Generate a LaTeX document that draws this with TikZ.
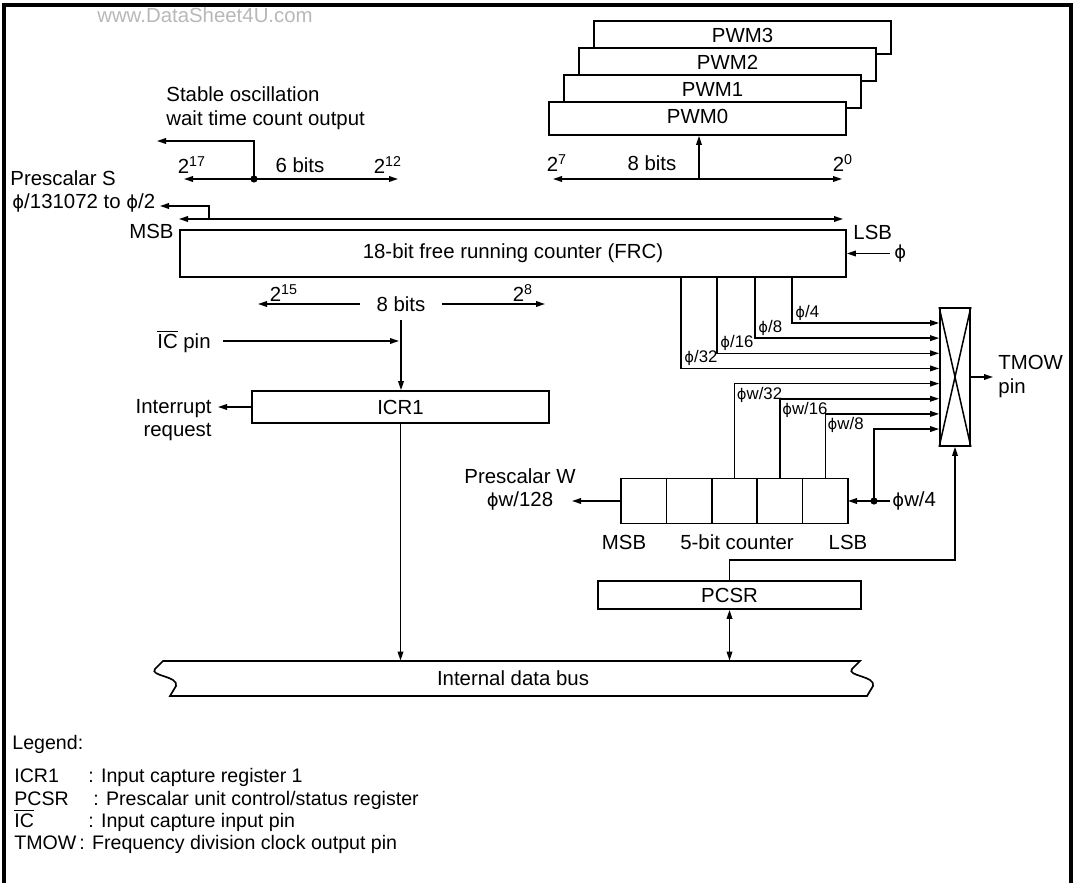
\documentclass[tikz,border=0pt]{standalone}
\usepackage{fontspec}
\setmainfont{Liberation Sans}
\newfontfamily\phifont{DejaVu Sans}[Scale=0.88]
\usetikzlibrary{arrows.meta, positioning, calc}
\newcommand{\ph}{{\phifont ϕ}}
\tikzset{
  regbox/.style={
    rectangle, draw=black, fill=white, line width=0.85pt,
    inner sep=0pt, font=\fontsize{10.2}{11.8}\selectfont,
  },
  cell/.style={regbox, minimum width=22.7pt, minimum height=22.5pt, outer sep=0pt},
  lbl/.style={inner sep=0pt, font=\fontsize{10.2}{11.8}\selectfont},
  lgd/.style={inner sep=0pt, anchor=base west, font=\fontsize{9.8}{11.8}\selectfont},
  taplbl/.style={inner sep=0pt, font=\fontsize{8.4}{9}\selectfont},
  wire/.style={line width=0.75pt},
  arrow/.style={wire, -{Triangle[length=4.5pt,width=2.8pt]}},
  dblarrow/.style={wire, {Triangle[length=4.5pt,width=2.8pt]}-{Triangle[length=4.5pt,width=2.8pt]}},
  junction/.style={circle, fill=black, inner sep=0pt, minimum size=3.6pt},
}

\begin{document}
\begin{tikzpicture}[x=0.5pt, y=-0.5pt]

  \useasboundingbox (0,0) rectangle (1076,883);
  \draw[line width=1.6pt] (4,5) rectangle (1071,895);
  \node[lbl, text=black!28] (wmark) at (205,15) {www.DataSheet4U.com};

  % PWM registers
  \foreach \i/\d in {3/45,2/30,1/15,0/0}{
    \node[regbox, minimum width=148.5pt, minimum height=16.5pt] (pwm\i) at (697.5+\d,118.5-1.8*\d) {};
    \node[lbl] (pwmtxt\i) at ($(pwm\i.center)+(0,-2)$) {PWM\i};
  }
  \coordinate (b8l) at (553,179);
  \coordinate (b8r) at (842,179);
  \coordinate (b8j) at (699,179);
  \draw[dblarrow] (b8l) -- (b8r);
  \draw[arrow] (b8j) -- (b8j |- pwm0.south);
  \node[lbl] (w7) at (557,163) {2\textsuperscript{7}};
  \node[lbl] (w8bits) at (652,163) {8 bits};
  \node[lbl] (w0) at (843,163) {2\textsuperscript{0}};

  % stable oscillation output
  \coordinate (s6l) at (184,179);
  \coordinate (s6r) at (398,179);
  \coordinate (s6j) at (254,179);
  \coordinate (s6out) at (157,141);
  \draw[dblarrow] (s6l) -- (s6r);
  \draw[arrow] (s6j) |- (s6out);
  \node[junction] (s6dot) at (s6j) {};
  \node[lbl] (w17) at (192,165) {2\textsuperscript{17}};
  \node[lbl] (w6bits) at (300,165) {6 bits};
  \node[lbl] (w12) at (388,165) {2\textsuperscript{12}};
  \node[lbl, anchor=west, align=left] (stable) at (166,108.5) {Stable oscillation\\wait time count output};

  % prescalar S
  \node[lbl, anchor=west] (pscS) at (10,178) {Prescalar S};
  \node[lbl, anchor=west] (pscSdiv) at (12,203) {\ph/131072 to \ph/2};
  \coordinate (pscStap) at (209,219);
  \coordinate (pscSout) at (160,206);
  \draw[arrow] (pscStap) |- (pscSout);

  % free running counter
  \node[regbox, minimum width=333pt, minimum height=23.5pt] (frc) at (513,253.5) {18-bit free running counter (FRC)};
  \coordinate (msb) at (179,219);
  \coordinate (lsb) at (843,219);
  \draw[dblarrow] (msb) -- (lsb);
  \node[lbl, anchor=east] (frcmsb) at (174,231) {MSB};
  \node[lbl, anchor=west] (frclsb) at (853,232) {LSB};
  \node[lbl, anchor=west] (phi) at (894,253.5) {\ph};
  \draw[arrow] ([xshift=-2pt]phi.west) -- (phi.west -| frc.east);

  % input capture
  \node[lbl] (c8bits) at (401,304) {8 bits};
  \node[lbl] (w15) at (284,293) {2\textsuperscript{15}};
  \node[lbl] (w8) at (523,293) {2\textsuperscript{8}};
  \coordinate (c8l) at (258,304);
  \coordinate (c8r) at (545,304);
  \draw[arrow] ([xshift=-8pt]c8bits.west) -- (c8l);
  \draw[arrow] ([xshift=8pt]c8bits.east) -- (c8r);
  \node[regbox, minimum width=148.5pt, minimum height=16pt] (icr1) at (400.5,407) {ICR1};
  \draw[arrow] ([yshift=-4pt]c8bits.south) -- (c8bits.south |- icr1.north);
  \node[lbl] (icpin) at (184,341) {$\overline{\mbox{IC}}$ pin};
  \coordinate (icj) at (399,341);
  \draw[arrow] ([xshift=6pt]icpin.east) -- (icj);
  \node[lbl, anchor=east, align=right] (irq) at (212,420) {Interrupt\\request};
  \coordinate (irqout) at (218,407);
  \draw[arrow] (icr1.west) -- (irqout);

  % internal data bus
  \node[lbl, minimum width=352pt, minimum height=17.5pt] (bus) at (513,678.5) {Internal data bus};
  \draw[line width=0.85pt] (163,661) -- (860,661) -- (852,669) .. controls (846,676) and (876,676) .. (873,686)
    -- (867,696) -- (170,696) -- (176,686) .. controls (179,676) and (149,676) .. (155,669) -- cycle;
  \draw[arrow] (icr1.south) -- (icr1.south |- bus.north);

  % 5-bit counter
  \node[cell] (cnt1) at (643.7,501) {};
  \foreach \k [count=\p] in {2,...,5}
    \node[cell, right=0pt of cnt\p] (cnt\k) {};
  \node[lbl] (cntmsb) at (624,542) {MSB};
  \node[lbl] (cnttxt) at (737,542) {5-bit counter};
  \node[lbl] (cntlsb) at (848,542) {LSB};
  \node[lbl, align=center] (pscW) at (520,489.5) {Prescalar W\\\ph w/128};
  \coordinate (pscWout) at (572,501);
  \draw[arrow] (cnt1.west) -- (pscWout);
  \node[lbl, anchor=west] (phiw4) at (892,501) {\ph w/4};
  \coordinate (w4j) at (874,501);
  \draw[arrow] ([xshift=-1pt]phiw4.west) -- (cnt5.east);

  % clock selector
  \node[regbox, minimum width=15pt, minimum height=69pt] (mux) at (955,377) {};
  \draw[wire] (mux.north west) -- (mux.south east) (mux.north east) -- (mux.south west);
  \foreach \i in {0,...,7}
    \path (mux.west) ++(0,-54+15.15*\i) coordinate (in\i);
  \foreach \tx/\i/\d in {792/0/4, 755/1/8, 717/2/16, 681/3/32}{
    \coordinate (ft\i) at (\tx,277);
    \draw[arrow] (ft\i) |- (in\i);
    \node[taplbl, anchor=south west] (ftl\i) at ($(ft\i |- in\i)+(3,-2)$) {\ph/\d};
  }
  \foreach \c/\i/\d in {3/4/32, 4/5/16, 5/6/8}{
    \draw[arrow] (cnt\c.north) |- (in\i);
    \node[taplbl, anchor=north west] (wtl\i) at ($(cnt\c.north |- in\i)+(2,3)$) {\ph w/\d};
  }
  \draw[arrow] (w4j) |- (in7);
  \node[junction] (w4dot) at (w4j) {};
  \coordinate (tmowout) at (993,377);
  \draw[arrow] (mux.east) -- (tmowout);
  \node[lbl, anchor=west, align=left] (tmow) at (998,376.5) {TMOW\\pin};

  % PCSR
  \node[regbox, minimum width=131.5pt, minimum height=14pt] (pcsr) at (729.5,595) {PCSR};
  \draw[arrow] (pcsr.north) -- ++(0,-20) -| (mux.south);
  \draw[dblarrow] (pcsr.south) -- (pcsr.south |- bus.north);

  % legend
  \node[lgd] (lgtitle) at (12,749) {Legend:};
  \foreach \ab/\cx/\ds/\yy [count=\r] in {ICR1/88/{Input capture register 1}/782,
      PCSR/93/{Prescalar unit control/status register}/805,
      {$\overline{\mbox{IC}}$}/88/{Input capture input pin}/827,
      TMOW/79/{Frequency division clock output pin}/849}{
    \node[lgd] (lgab\r) at (14,\yy) {\ab};
    \node[lgd] (lgds\r) at (\cx,\yy) {: \ds};
  }

\end{tikzpicture}
\end{document}
